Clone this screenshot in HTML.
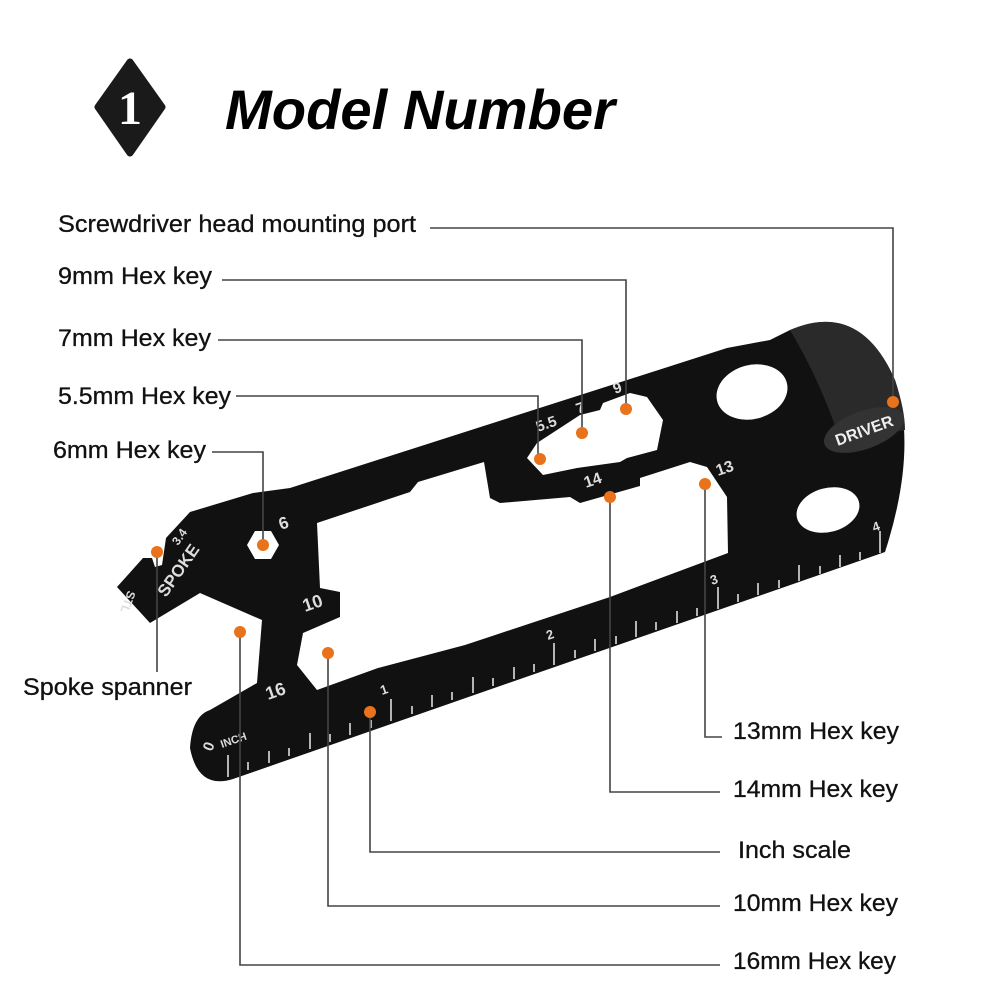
<!DOCTYPE html>
<html><head><meta charset="utf-8"><style>
html,body{margin:0;padding:0;background:#fff;}
svg{display:block;}
</style></head><body>
<svg width="1000" height="1000" viewBox="0 0 1000 1000" xmlns="http://www.w3.org/2000/svg" font-family="Liberation Sans, sans-serif">
<rect width="1000" height="1000" fill="#fff"/>
<path d="M130,62 L162,107 L130,153 L98,107 Z" fill="#1a1a1a" stroke="#1a1a1a" stroke-width="7" stroke-linejoin="round"/>
<text x="130" y="124" font-family="Liberation Serif, serif" font-weight="bold" font-size="48" fill="#fff" text-anchor="middle">1</text>
<text x="225" y="129" font-weight="bold" font-style="italic" font-size="56" fill="#000" textLength="390" lengthAdjust="spacingAndGlyphs">Model Number</text>

<path d="M117,587 L143,558 L152,558 L155,567 L162,565 L166,538 L190,512 L253,493 L290,488 L727,348 L770,340 L790,330 Q860,300 895,380 Q918,450 885,552 L233,779 Q198,790 190,748 Q192,716 210,710 L257,683 L262,620 L200,593 L150,623 Z" fill="#111"/>
<path d="M790,330 Q860,300 895,380 Q905,410 905,430 L840,440 Q820,380 790,330 Z" fill="#2a2a2a"/>
<path d="M317,523 L320,588 L340,592 L340,617 L303,633 L297,665 L317,690 L378,668 L465,645 L610,597 L728,553 L727,497 L707,467 L690,462 L640,478 L640,486 L580,503 L570,497 L500,503 L490,498 L484,462 L418,482 L410,492 Z" fill="#fff"/>
<path d="M527,458 L543,475 L577,468 L620,462 L627,458 L657,450 L663,420 L647,397 L630,393 L603,403 L600,410 L580,415 L557,430 L537,443 Z" fill="#fff"/>
<polygon points="279,545 271,559 255,559 247,545 255,531 271,531" fill="#fff"/>
<ellipse cx="752" cy="392" rx="36" ry="27" transform="rotate(-15 752 392)" fill="#fff"/>
<ellipse cx="828" cy="510" rx="32" ry="22" transform="rotate(-15 828 510)" fill="#fff"/>
<ellipse cx="864" cy="430" rx="42" ry="19" transform="rotate(-20 864 430)" fill="#333"/>
<text x="864" y="436" font-weight="bold" font-size="16" fill="#eee" text-anchor="middle" transform="rotate(-20 864 430)">DRIVER</text>

<g stroke="#ddd" stroke-width="1.6">
<line x1="228" y1="777" x2="228" y2="755"/>
<line x1="248" y1="770" x2="248" y2="762"/>
<line x1="269" y1="763" x2="269" y2="751"/>
<line x1="289" y1="756" x2="289" y2="748"/>
<line x1="310" y1="749" x2="310" y2="733"/>
<line x1="330" y1="742" x2="330" y2="734"/>
<line x1="350" y1="735" x2="350" y2="723"/>
<line x1="371" y1="728" x2="371" y2="720"/>
<line x1="391" y1="721" x2="391" y2="699"/>
<line x1="412" y1="714" x2="412" y2="706"/>
<line x1="432" y1="707" x2="432" y2="695"/>
<line x1="452" y1="700" x2="452" y2="692"/>
<line x1="473" y1="693" x2="473" y2="677"/>
<line x1="493" y1="686" x2="493" y2="678"/>
<line x1="514" y1="679" x2="514" y2="667"/>
<line x1="534" y1="672" x2="534" y2="664"/>
<line x1="554" y1="665" x2="554" y2="643"/>
<line x1="575" y1="658" x2="575" y2="650"/>
<line x1="595" y1="651" x2="595" y2="639"/>
<line x1="616" y1="644" x2="616" y2="636"/>
<line x1="636" y1="637" x2="636" y2="621"/>
<line x1="656" y1="630" x2="656" y2="622"/>
<line x1="677" y1="623" x2="677" y2="611"/>
<line x1="697" y1="616" x2="697" y2="608"/>
<line x1="718" y1="609" x2="718" y2="587"/>
<line x1="738" y1="602" x2="738" y2="594"/>
<line x1="758" y1="595" x2="758" y2="583"/>
<line x1="779" y1="588" x2="779" y2="580"/>
<line x1="799" y1="581" x2="799" y2="565"/>
<line x1="820" y1="574" x2="820" y2="566"/>
<line x1="840" y1="567" x2="840" y2="555"/>
<line x1="860" y1="560" x2="860" y2="552"/>
<line x1="880" y1="553" x2="880" y2="531"/>
</g>
<g font-weight="bold" fill="#ddd" font-size="15">
<text x="212" y="752" transform="rotate(-70 212 752)">0</text>
<text x="222" y="748" font-size="11" transform="rotate(-19 222 748)">INCH</text>
<text x="382" y="695" font-size="13" transform="rotate(-19 382 695)">1</text>
<text x="548" y="640" font-size="13" transform="rotate(-19 548 640)">2</text>
<text x="712" y="585" font-size="13" transform="rotate(-19 712 585)">3</text>
<text x="874" y="532" font-size="13" transform="rotate(-19 874 532)">4</text>
<text x="268" y="700" font-size="18" transform="rotate(-19 268 700)">16</text>
<text x="305" y="612" font-size="18" transform="rotate(-19 305 612)">10</text>
<text x="281" y="530" font-size="17" transform="rotate(-19 281 530)">6</text>
<text x="166" y="598" font-size="17" transform="rotate(-55 166 598)">SPOKE</text>
<text x="178" y="546" font-size="12" transform="rotate(-55 178 546)">3.4</text>
<text x="128" y="590" font-size="12" transform="rotate(110 128 590)">STL</text>
<text x="538" y="432" font-size="15" transform="rotate(-19 538 432)">5.5</text>
<text x="578" y="414" font-size="15" transform="rotate(-19 578 414)">7</text>
<text x="615" y="394" font-size="15" transform="rotate(-19 615 394)">9</text>
<text x="586" y="488" font-size="16" transform="rotate(-19 586 488)">14</text>
<text x="718" y="476" font-size="16" transform="rotate(-19 718 476)">13</text>
</g>

<g stroke="#444" stroke-width="1.6" fill="none">
<polyline points="430,228 893,228 893,402"/>
<polyline points="222,280 626,280 626,409"/>
<polyline points="218,340 582,340 582,433"/>
<polyline points="236,396 538,396 538,459"/>
<polyline points="212,452 263,452 263,545"/>
<polyline points="157,552 157,672"/>
<polyline points="705,484 705,737 722,737"/>
<polyline points="610,497 610,792 720,792"/>
<polyline points="370,712 370,852 720,852"/>
<polyline points="328,653 328,906 720,906"/>
<polyline points="240,632 240,965 720,965"/>
</g>
<g fill="#e8731a">
<circle cx="157" cy="552" r="6"/>
<circle cx="263" cy="545" r="6"/>
<circle cx="540" cy="459" r="6"/>
<circle cx="582" cy="433" r="6"/>
<circle cx="626" cy="409" r="6"/>
<circle cx="893" cy="402" r="6"/>
<circle cx="610" cy="497" r="6"/>
<circle cx="705" cy="484" r="6"/>
<circle cx="240" cy="632" r="6"/>
<circle cx="328" cy="653" r="6"/>
<circle cx="370" cy="712" r="6"/>
</g>

<g font-size="24" fill="#111" stroke="#111" stroke-width="0.3">
<text x="58" y="232" textLength="358" lengthAdjust="spacingAndGlyphs">Screwdriver head mounting port</text>
<text x="58" y="284" textLength="154" lengthAdjust="spacingAndGlyphs">9mm Hex key</text>
<text x="58" y="346" textLength="153" lengthAdjust="spacingAndGlyphs">7mm Hex key</text>
<text x="58" y="404" textLength="173" lengthAdjust="spacingAndGlyphs">5.5mm Hex key</text>
<text x="53" y="458" textLength="153" lengthAdjust="spacingAndGlyphs">6mm Hex key</text>
<text x="23" y="695" textLength="169" lengthAdjust="spacingAndGlyphs">Spoke spanner</text>
<text x="733" y="739" textLength="166" lengthAdjust="spacingAndGlyphs">13mm Hex key</text>
<text x="733" y="797" textLength="165" lengthAdjust="spacingAndGlyphs">14mm Hex key</text>
<text x="738" y="858" textLength="113" lengthAdjust="spacingAndGlyphs">Inch scale</text>
<text x="733" y="911" textLength="165" lengthAdjust="spacingAndGlyphs">10mm Hex key</text>
<text x="733" y="969" textLength="163" lengthAdjust="spacingAndGlyphs">16mm Hex key</text>
</g>
</svg>
</body></html>
